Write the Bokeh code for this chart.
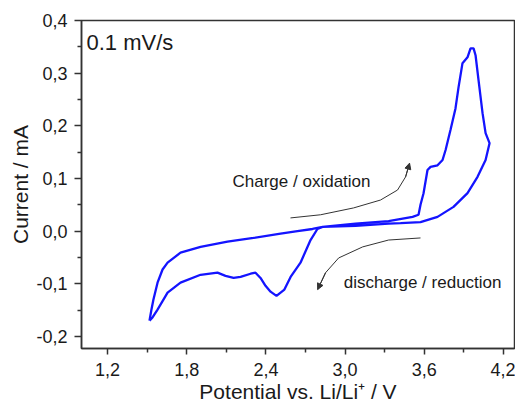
from bokeh.plotting import figure
from bokeh.models import FixedTicker, Range1d, Label, Arrow, NormalHead
from bokeh.embed import file_html
from bokeh.resources import INLINE

# ---- data ----
charge_potential = [1.518, 1.533, 1.548, 1.579, 1.617, 1.655, 1.753, 1.905, 2.109, 2.306,
                    2.511, 2.639, 2.753, 2.829, 3.079, 3.329, 3.511, 3.556, 3.571, 3.594,
                    3.624, 3.647, 3.700, 3.738, 3.761, 3.798, 3.836, 3.859, 3.889, 3.927,
                    3.950, 3.973, 3.988, 4.011, 4.041, 4.064, 4.094]
charge_current = [-0.170, -0.149, -0.130, -0.098, -0.073, -0.060, -0.041, -0.030, -0.020, -0.013,
                  -0.005, 0.000, 0.004, 0.008, 0.014, 0.019, 0.027, 0.031, 0.050, 0.072,
                  0.116, 0.122, 0.125, 0.135, 0.154, 0.192, 0.233, 0.273, 0.319, 0.330,
                  0.347, 0.347, 0.334, 0.286, 0.224, 0.186, 0.167]

discharge_potential = [4.094, 4.064, 4.003, 3.927, 3.821, 3.700, 3.571, 3.420, 3.329, 3.079,
                       2.829, 2.790, 2.738, 2.662, 2.587, 2.540, 2.480, 2.435, 2.397, 2.359,
                       2.321, 2.284, 2.208, 2.155, 2.094, 2.033, 1.905, 1.753, 1.655, 1.579,
                       1.541, 1.518]
discharge_current = [0.167, 0.135, 0.103, 0.072, 0.046, 0.027, 0.017, 0.015, 0.014, 0.010,
                     0.008, 0.004, -0.017, -0.060, -0.087, -0.111, -0.123, -0.115, -0.104, -0.089,
                     -0.079, -0.081, -0.087, -0.089, -0.085, -0.079, -0.083, -0.098, -0.117, -0.149,
                     -0.164, -0.170]

# annotation arrows (potential / current)
arrow_charge_v = [2.586, 2.814, 3.064, 3.268, 3.397, 3.458, 3.488]
arrow_charge_i = [0.025, 0.031, 0.044, 0.059, 0.078, 0.103, 0.129]
arrow_discharge_v = [3.571, 3.329, 3.133, 2.951, 2.852, 2.792]
arrow_discharge_i = [-0.013, -0.017, -0.030, -0.051, -0.079, -0.111]

x_ticks = [1.2, 1.8, 2.4, 3.0, 3.6, 4.2]
x_tick_labels = ["1,2", "1,8", "2,4", "3,0", "3,6", "4,2"]
x_minor = [1.5, 2.1, 2.7, 3.3, 3.9]
y_ticks = [-0.2, -0.1, 0.0, 0.1, 0.2, 0.3, 0.4]
y_tick_labels = ["-0,2", "-0,1", "0,0", "0,1", "0,2", "0,3", "0,4"]
y_minor = [-0.15, -0.05, 0.05, 0.15, 0.25, 0.35]

FONT = "Liberation Sans"
TXT = "#1a1a1a"
AX = "#333333"

p = figure(width=515, height=405, output_backend="svg", toolbar_location=None,
           x_range=Range1d(1.003, 4.283), y_range=Range1d(-0.223, 0.4),
           min_border_left=81, min_border_top=20, min_border_right=1, min_border_bottom=56)
p.background_fill_color = "white"
p.border_fill_color = "white"
p.outline_line_color = AX
p.outline_line_width = 1.5
p.grid.visible = False

p.line(charge_potential + discharge_potential[1:], charge_current + discharge_current[1:],
       line_color="#1414ff", line_width=2.3)

# arrows
p.line(arrow_charge_v, arrow_charge_i, line_color="#333333", line_width=1)
p.add_layout(Arrow(end=NormalHead(size=6, fill_color="#333333", line_color="#333333"),
                   x_start=arrow_charge_v[-2], y_start=arrow_charge_i[-2],
                   x_end=arrow_charge_v[-1], y_end=arrow_charge_i[-1],
                   line_color="#333333", line_width=1))
p.line(arrow_discharge_v, arrow_discharge_i, line_color="#333333", line_width=1)
p.add_layout(Arrow(end=NormalHead(size=6, fill_color="#333333", line_color="#333333"),
                   x_start=arrow_discharge_v[-2], y_start=arrow_discharge_i[-2],
                   x_end=arrow_discharge_v[-1], y_end=arrow_discharge_i[-1],
                   line_color="#333333", line_width=1))

p.add_layout(Label(x=2.147, y=0.095, text="Charge / oxidation", text_font=FONT,
                   text_font_size="17px", text_color=TXT, text_baseline="alphabetic"))
p.add_layout(Label(x=2.989, y=-0.098, text="discharge / reduction", text_font=FONT,
                   text_font_size="17px", text_color=TXT, text_baseline="alphabetic"))
p.add_layout(Label(x=1.041, y=0.358, text="0.1 mV/s", text_font=FONT,
                   text_font_size="22px", text_color=TXT, text_baseline="alphabetic"))

for ax in (p.xaxis[0], p.yaxis[0]):
    ax.axis_line_color = AX
    ax.axis_line_width = 1.5
    ax.major_tick_line_color = AX
    ax.minor_tick_line_color = AX
    ax.major_tick_line_width = 1.5
    ax.minor_tick_line_width = 1.5
    ax.major_tick_in = 0
    ax.minor_tick_in = 0
    ax.major_label_text_font = FONT
    ax.major_label_text_font_size = "18px"
    ax.major_label_text_color = TXT
    ax.axis_label_text_font = FONT
    ax.axis_label_text_font_size = "21px"
    ax.axis_label_text_font_style = "normal"
    ax.axis_label_text_color = TXT

xa = p.xaxis[0]
xa.ticker = FixedTicker(ticks=x_ticks, minor_ticks=x_minor)
xa.major_label_overrides = {t: l for t, l in zip(x_ticks, x_tick_labels)}
xa.major_tick_out = 6
xa.minor_tick_out = 4
xa.major_label_standoff = 8
xa.axis_label = "Potential vs. Li/Li\u207a / V"
xa.axis_label_standoff = 1

ya = p.yaxis[0]
ya.ticker = FixedTicker(ticks=y_ticks, minor_ticks=y_minor)
ya.major_label_overrides = {t: l for t, l in zip(y_ticks, y_tick_labels)}
ya.major_tick_out = 7
ya.minor_tick_out = 4
ya.major_label_standoff = 7
ya.axis_label = "Current / mA"
ya.axis_label_standoff = 1

open("out.html", "w").write(file_html(p, INLINE))
